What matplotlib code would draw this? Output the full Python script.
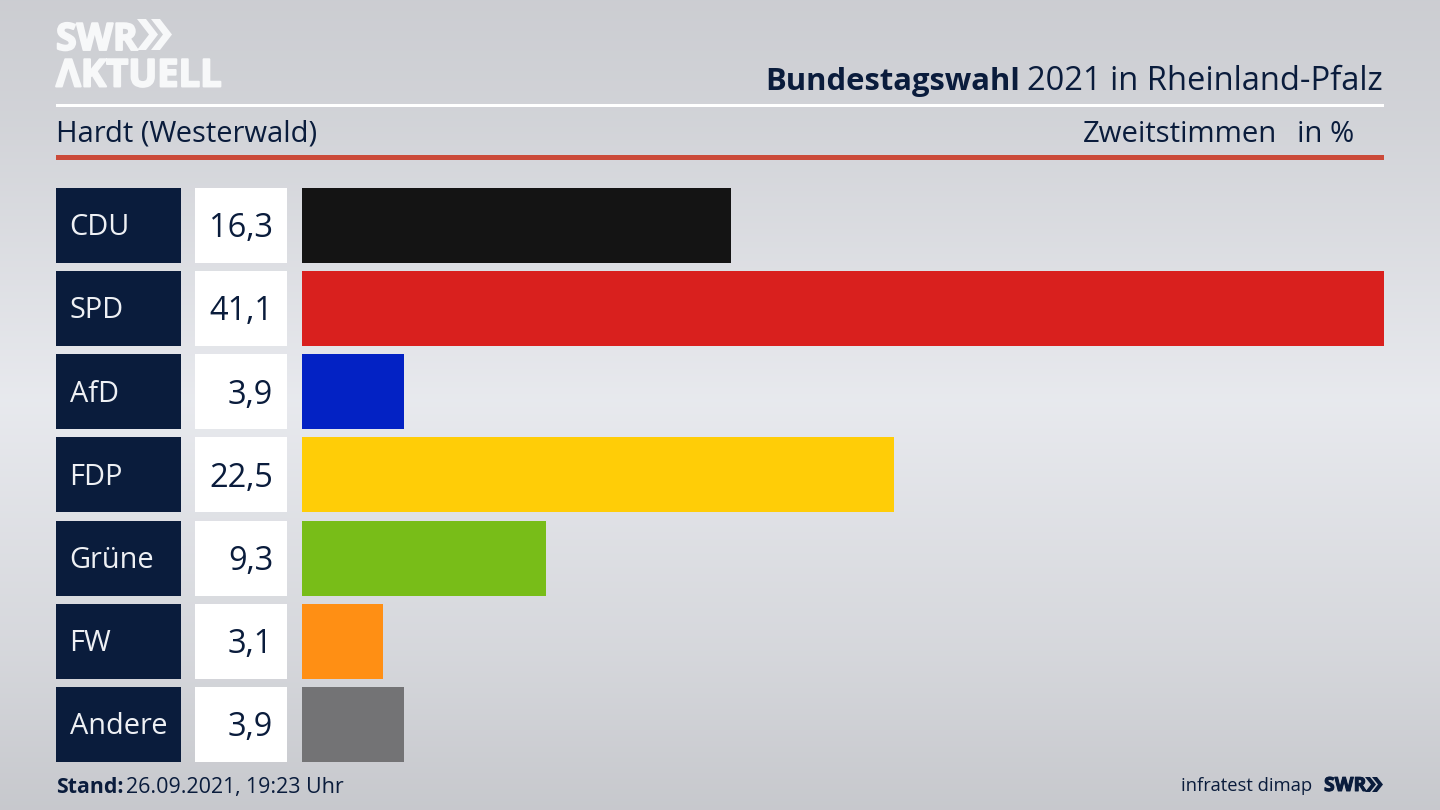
import numpy as np
import matplotlib
matplotlib.use("Agg")
import matplotlib.pyplot as plt
import matplotlib.patheffects as pe
from matplotlib.patches import Rectangle, Polygon

parties = ["CDU", "SPD", "AfD", "FDP", "Grüne", "FW", "Andere"]
shares = [16.3, 41.1, 3.9, 22.5, 9.3, 3.1, 3.9]
labels = ["16,3", "41,1", "3,9", "22,5", "9,3", "3,1", "3,9"]
colors = ["#141414", "#d9201e", "#0322c4", "#ffcd07", "#78bd18", "#ff8f14", "#737375"]

W, H = 1440, 810
NAVY = "#0a1c3c"
LOGO = "#f7f8f9"
FONT = "Open Sans"
plt.rcParams["font.family"] = FONT

fig = plt.figure(figsize=(W / 100, H / 100), dpi=100)

bg = fig.add_axes([0, 0, 1, 1])
bg.set_xlim(0, W)
bg.set_ylim(H, 0)
bg.axis("off")
stops_y = [0, 120, 400, 650, 810]
stops_c = [0xce, 0xd4, 0xea, 0xd8, 0xc9]
shade = np.interp(np.arange(H), stops_y, stops_c) / 255
grad = np.stack([shade - 0.008, shade - 0.002, shade + 0.016], axis=1).clip(0, 1)[:, None, :]
bg.imshow(grad, extent=[0, W, H, 0], aspect="auto", zorder=0)

bg.add_patch(Rectangle((56, 104), 1328, 3, color="#ffffff", lw=0, zorder=1))
bg.add_patch(Rectangle((56, 155), 1328, 5, color="#cb4a39", lw=0, zorder=1))

fat = [pe.withStroke(linewidth=1.4, foreground=LOGO)]
fat_navy = [pe.withStroke(linewidth=0.7, foreground=NAVY)]
bg.text(56, 50, "SWR", color=LOGO, fontsize=27, fontweight="bold", va="baseline", ha="left", zorder=2, path_effects=fat)
bg.text(56, 86.5, "ΛKTUELL", color=LOGO, fontsize=27.5, fontweight="bold", va="baseline", ha="left", zorder=2, path_effects=fat)


def chevrons(x0, y0, h, w, gap, t, color):
    for k in range(2):
        x = x0 + k * gap
        bg.add_patch(Polygon([(x, y0), (x + t, y0), (x + t + w, y0 + h / 2),
                              (x + t, y0 + h), (x, y0 + h), (x + w, y0 + h / 2)],
                             closed=True, color=color, lw=0, zorder=2))


chevrons(137, 19, 31, 12, 14, 9, LOGO)

bg.text(1383, 90, "2021 in Rheinland-Pfalz", color=NAVY, fontsize=23.5, va="baseline", ha="right", zorder=2)
bg.text(1020, 90, "Bundestagswahl", color=NAVY, fontsize=22.3, fontweight="bold", va="baseline", ha="right", zorder=2)
bg.text(56, 142, "Hardt (Westerwald)", color=NAVY, fontsize=21, va="baseline", ha="left", zorder=2)
bg.text(1277, 142, "Zweitstimmen", color=NAVY, fontsize=21.2, va="baseline", ha="right", zorder=2)
bg.text(1354, 142, "in %", color=NAVY, fontsize=21.2, va="baseline", ha="right", zorder=2)

bg.text(56, 793, "Stand:", color=NAVY, fontsize=15.3, fontweight="bold", va="baseline", ha="left", zorder=2)
bg.text(126, 793, "26.09.2021, 19:23 Uhr", color=NAVY, fontsize=15.4, va="baseline", ha="left", zorder=2)
bg.text(1312, 791, "infratest dimap", color=NAVY, fontsize=13.2, va="baseline", ha="right", zorder=2)
bg.text(1324, 791, "SWR", color=NAVY, fontsize=14, fontweight="bold", va="baseline", ha="left", zorder=2, path_effects=fat_navy)
chevrons(1365, 777, 15, 6, 7, 5, NAVY)

row_top = 187.5
row_h = 75
row_step = 83.25
for i, (p, lab) in enumerate(zip(parties, labels)):
    y = row_top + i * row_step
    bg.add_patch(Rectangle((56, y), 125, row_h, color=NAVY, lw=0, zorder=1))
    bg.add_patch(Rectangle((195, y), 92, row_h, color="#ffffff", lw=0, zorder=1))
    bg.text(69.5, y + row_h / 2 + 10, p, color="#eef0f4", fontsize=20.8, va="baseline", ha="left", zorder=2)
    bg.text(273, y + row_h / 2 + 12, lab, color=NAVY, fontsize=23.5, va="baseline", ha="right", zorder=2)

ax = fig.add_axes([301.5 / W, 1 - (row_top + 6 * row_step + row_h) / H, (1384 - 301.5) / W,
                   (6 * row_step + row_h) / H])
ax.patch.set_alpha(0)
ax.barh(range(len(parties)), shares, height=row_h / row_step, color=colors, lw=0)
ax.set_xlim(0, 41.1)
ax.set_ylim(6 + row_h / row_step / 2, -row_h / row_step / 2)
ax.axis("off")

fig.savefig("out.png", dpi=100)
